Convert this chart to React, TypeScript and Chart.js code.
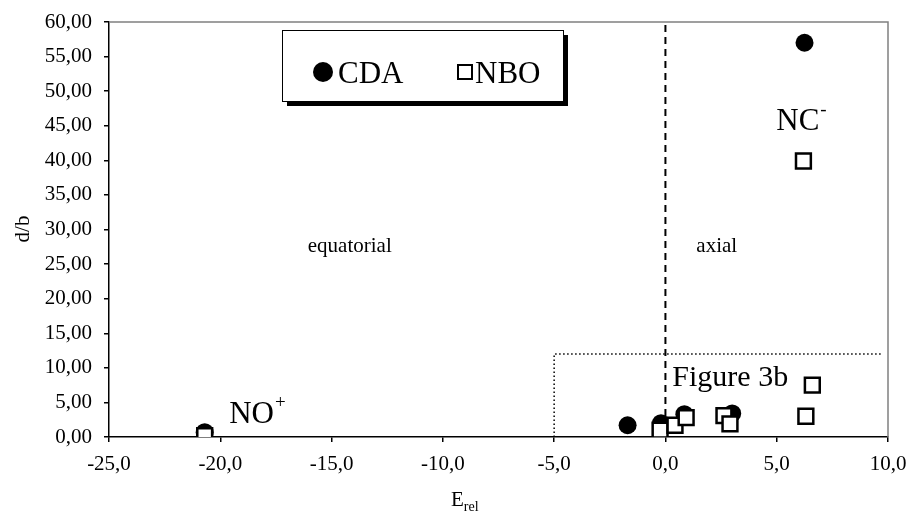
import React, { useEffect, useRef } from "react";
import { Chart, registerables } from "chart.js";

Chart.register(...registerables);

// ---- data ----
const cdaX = [6.25, -20.7, -1.7, -0.2, 0.85, 3.0];
const cdaY = [57.0, 0.7, 1.7, 2.0, 3.3, 3.4];
const nboX = [6.2, -20.7, -0.24, 0.43, 0.93, 2.63, 2.9, 6.31, 6.6];
const nboY = [39.9, 0.2, 1.0, 1.7, 2.8, 3.1, 1.9, 3.0, 7.5];

const xTicks = [-25, -20, -15, -10, -5, 0, 5, 10];
const yTicks = [0, 5, 10, 15, 20, 25, 30, 35, 40, 45, 50, 55, 60];
const xTickLabels = ["-25,0", "-20,0", "-15,0", "-10,0", "-5,0", "0,0", "5,0", "10,0"];
const yTickLabels = ["0,00", "5,00", "10,00", "15,00", "20,00", "25,00", "30,00", "35,00", "40,00", "45,00", "50,00", "55,00", "60,00"];

const seriesNames = ["CDA", "NBO"];
const dividerX = 0; // axial / equatorial boundary
const zoomBox = { xMin: -5, xMax: 10, yMax: 12 };

const annotations = [
  { text: "equatorial", x: -16.07, y: 26.8, size: 21 },
  { text: "axial", x: 1.39, y: 26.8, size: 21 },
  { text: "Figure 3b", x: 0.31, y: 7.35, size: 30 },
];
const ionLabels = [
  { text: "NC", sup: "-", x: 4.98, y: 44.4 },
  { text: "NO", sup: "+", x: -19.6, y: 2.0 },
];

const FONT = "'Liberation Serif', 'Times New Roman', serif";

const overlay = {
  id: "overlay",
  beforeDatasetsDraw(chart: any) {
    const { ctx, chartArea: ca, scales } = chart;
    const x = scales.x;
    const y = scales.y;
    ctx.save();
    // gray top/right frame
    ctx.strokeStyle = "#808080";
    ctx.lineWidth = 1.5;
    ctx.beginPath();
    ctx.moveTo(ca.left, ca.top);
    ctx.lineTo(ca.right, ca.top);
    ctx.lineTo(ca.right, ca.bottom);
    ctx.stroke();
    // dashed divider
    ctx.strokeStyle = "#000";
    ctx.lineWidth = 2;
    ctx.setLineDash([7, 5]);
    const x0 = x.getPixelForValue(dividerX);
    ctx.beginPath();
    ctx.moveTo(x0, ca.top + 3);
    ctx.lineTo(x0, ca.bottom);
    ctx.stroke();
    // dotted zoom box
    ctx.lineWidth = 1.5;
    ctx.setLineDash([1.5, 2.5]);
    const bx = x.getPixelForValue(zoomBox.xMin);
    const by = y.getPixelForValue(zoomBox.yMax);
    ctx.beginPath();
    ctx.moveTo(bx, ca.bottom);
    ctx.lineTo(bx, by);
    ctx.lineTo(x.getPixelForValue(zoomBox.xMax) - 6, by);
    ctx.stroke();
    ctx.setLineDash([]);
    ctx.restore();
  },
  afterDatasetsDraw(chart: any) {
    const { ctx, scales } = chart;
    const x = scales.x;
    const y = scales.y;
    ctx.save();
    ctx.fillStyle = "#000";
    ctx.textBaseline = "alphabetic";
    ctx.textAlign = "left";
    for (const a of annotations) {
      ctx.font = `${a.size}px ${FONT}`;
      ctx.fillText(a.text, x.getPixelForValue(a.x), y.getPixelForValue(a.y));
    }
    for (const l of ionLabels) {
      const px = x.getPixelForValue(l.x);
      const py = y.getPixelForValue(l.y);
      ctx.font = `31px ${FONT}`;
      ctx.fillText(l.text, px, py);
      const w = ctx.measureText(l.text).width;
      ctx.font = `19px ${FONT}`;
      ctx.fillText(l.sup, px + w + 1, py - 15);
    }
    // legend box with shadow
    const L = 282, T = 30, W = 281, H = 71;
    ctx.fillStyle = "#000";
    ctx.fillRect(L + 5, T + 5, W, H);
    ctx.fillStyle = "#fff";
    ctx.fillRect(L, T, W, H);
    ctx.strokeStyle = "#000";
    ctx.lineWidth = 1;
    ctx.strokeRect(L + 0.5, T + 0.5, W, H);
    ctx.fillStyle = "#000";
    ctx.beginPath();
    ctx.arc(L + 41, T + 42, 10, 0, Math.PI * 2);
    ctx.fill();
    ctx.font = `31px ${FONT}`;
    ctx.fillText(seriesNames[0], L + 56, T + 53);
    ctx.lineWidth = 2;
    ctx.strokeRect(L + 176, T + 35, 14, 14);
    ctx.fillText(seriesNames[1], L + 193, T + 53);
    // axis titles
    ctx.font = `21px ${FONT}`;
    ctx.fillText("E", 451, 506);
    const ew = ctx.measureText("E").width;
    ctx.font = `14px ${FONT}`;
    ctx.fillText("rel", 451 + ew, 511);
    ctx.save();
    ctx.translate(29, 229);
    ctx.rotate(-Math.PI / 2);
    ctx.textAlign = "center";
    ctx.font = `21px ${FONT}`;
    ctx.fillText("d/b", 0, 0);
    ctx.restore();
    ctx.restore();
  },
};

export default function App() {
  const ref = useRef<HTMLCanvasElement>(null);
  useEffect(() => {
    const canvas = ref.current!;
    const chart = new Chart(canvas, {
      type: "scatter",
      data: {
        datasets: [
          {
            label: seriesNames[1],
            data: nboX.map((v, i) => ({ x: v, y: nboY[i] })),
            pointStyle: "rect",
            pointRadius: 10.5,
            pointHoverRadius: 10.5,
            backgroundColor: "#fff",
            borderColor: "#000",
            borderWidth: 2.5,
            order: 0,
          },
          {
            label: seriesNames[0],
            data: cdaX.map((v, i) => ({ x: v, y: cdaY[i] })),
            pointStyle: "circle",
            pointRadius: 9,
            pointHoverRadius: 9,
            backgroundColor: "#000",
            borderColor: "#000",
            borderWidth: 0,
            order: 1,
          },
        ],
      },
      options: {
        responsive: false,
        animation: false,
        devicePixelRatio: 1,
        layout: { padding: { top: 22, right: 21, left: 0, bottom: 0 } },
        plugins: { legend: { display: false }, tooltip: { enabled: false } },
        scales: {
          x: {
            type: "linear",
            min: xTicks[0],
            max: xTicks[xTicks.length - 1],
            afterBuildTicks: (s: any) => {
              s.ticks = xTicks.map((v) => ({ value: v }));
            },
            afterFit: (s: any) => {
              s.height = 81;
              s.paddingLeft = 0;
              s.paddingRight = 0;
            },
            ticks: {
              autoSkip: false,
              maxRotation: 0,
              padding: 10,
              color: "#000",
              font: { family: FONT, size: 21 },
              callback: (v: any) => xTickLabels[xTicks.indexOf(Number(v))],
            },
            grid: { display: true, drawOnChartArea: false, drawTicks: true, tickLength: 5, color: "#000", lineWidth: 1.5 },
            border: { display: true, color: "#000", width: 1.5 },
          },
          y: {
            type: "linear",
            min: yTicks[0],
            max: yTicks[yTicks.length - 1],
            afterBuildTicks: (s: any) => {
              s.ticks = yTicks.map((v) => ({ value: v }));
            },
            afterFit: (s: any) => {
              s.width = 109;
              s.paddingTop = 0;
              s.paddingBottom = 0;
            },
            ticks: {
              autoSkip: false,
              padding: 12,
              color: "#000",
              font: { family: FONT, size: 21 },
              callback: (v: any) => yTickLabels[yTicks.indexOf(Number(v))],
            },
            grid: { display: true, drawOnChartArea: false, drawTicks: true, tickLength: 5, color: "#000", lineWidth: 1.5 },
            border: { display: true, color: "#000", width: 1.5 },
          },
        },
      },
      plugins: [overlay],
    } as any);
    return () => chart.destroy();
  }, []);
  return (
    <div style={{ position: "absolute", left: 0, top: 0, width: 909, height: 518, background: "#fff" }}>
      <canvas ref={ref} width={909} height={518} />
    </div>
  );
}
